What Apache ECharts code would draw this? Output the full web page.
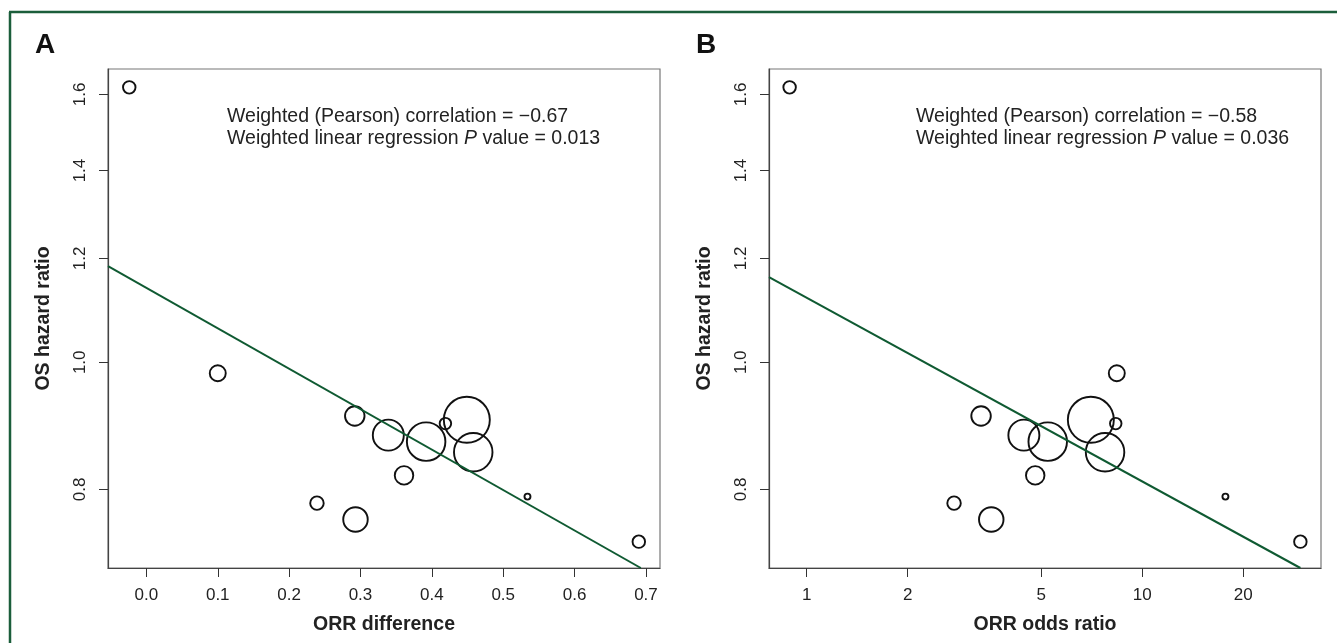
<!DOCTYPE html>
<html>
<head>
<meta charset="utf-8">
<script src="https://cdn.jsdelivr.net/npm/echarts@6/dist/echarts.min.js"></script>
<style>
html,body{margin:0;padding:0;background:#fff;}
#chart{width:1337px;height:643px;}
</style>
</head>
<body>
<div id="chart"></div>
<script>
// one entry per study, same order in both panels
var osHR    = [1.62, 0.981, 0.910, 0.880, 0.870, 0.898, 0.904, 0.854, 0.820, 0.781, 0.759, 0.790, 0.730];
var orrDiff = [-0.024, 0.100, 0.292, 0.339, 0.392, 0.419, 0.449, 0.458, 0.361, 0.239, 0.293, 0.534, 0.690];
var orrOdds = [0.89, 8.40, 3.31, 4.44, 5.23, 8.34, 7.03, 7.75, 4.80, 2.75, 3.55, 17.7, 29.6];
var studyWeight = [12.5, 16, 19.5, 31, 38.5, 11.5, 46, 38.5, 18.5, 13.5, 24.5, 6, 12.5];

// fitted weighted regression lines (end points)
var fitDiffX = [-0.0538, 0.6928];
var fitDiffY = [1.184, 0.697];
var fitOddsX = [0.7726, 29.6];
var fitOddsY = [1.161, 0.697];

var hrTicks   = [0.8, 1.0, 1.2, 1.4, 1.6];
var diffTicks = [0, 0.1, 0.2, 0.3, 0.4, 0.5, 0.6, 0.7];
var oddsTicks = [1, 2, 5, 10, 20];

var FONT = 'Liberation Sans, Arial, sans-serif';
var TXT = '#222';
var GREEN = '#0f5a32';

function pairs(xs, ys){
	var out = [];
	for(var i = 0 ; i < xs.length ; i++){
		out.push([xs[i], ys[i]]);
	}
	return out;
}

function xAxisOf(idx, type, min, max, ticks, name, fmt){
	return {
		gridIndex : idx,
		type : type,
		min : min,
		max : max,
		name : name,
		nameLocation : 'middle',
		nameGap : 47,
		nameTextStyle : { fontFamily : FONT, fontSize : 19.5, fontWeight : 'bold', color : TXT },
		axisLine : { show : true, onZero : false, lineStyle : { color : '#444', width : 1.2 } },
		axisTick : { show : true, customValues : ticks, length : 9, lineStyle : { color : '#333', width : 1 } },
		axisLabel : { customValues : ticks, margin : 19, fontFamily : FONT, fontSize : 17, color : TXT, formatter : fmt },
		splitLine : { show : false }
	};
}

function yAxisOf(idx){
	return {
		gridIndex : idx,
		type : 'log',
		min : 0.697,
		max : 1.673,
		name : 'OS hazard ratio',
		nameLocation : 'middle',
		nameGap : 54,
		nameRotate : 90,
		nameTextStyle : { fontFamily : FONT, fontSize : 19.5, fontWeight : 'bold', color : TXT },
		axisLine : { show : true, onZero : false, lineStyle : { color : '#444', width : 1.2 } },
		axisTick : { show : true, customValues : hrTicks, length : 9, lineStyle : { color : '#333', width : 1 } },
		axisLabel : { customValues : hrTicks, rotate : 90, margin : 19, fontFamily : FONT, fontSize : 17, color : TXT,
			formatter : function(v){ return Number(v).toFixed(1); } },
		splitLine : { show : false }
	};
}

function bubbles(idx, xs){
	return {
		type : 'scatter',
		xAxisIndex : idx,
		yAxisIndex : idx,
		data : pairs(xs, osHR),
		symbol : 'circle',
		symbolSize : function(v, p){ return studyWeight[p.dataIndex]; },
		itemStyle : { color : 'rgba(0,0,0,0)', borderColor : '#111', borderWidth : 1.9, opacity : 1 },
		z : 3
	};
}

function fitLine(idx, xs, ys){
	return {
		type : 'line',
		xAxisIndex : idx,
		yAxisIndex : idx,
		data : pairs(xs, ys),
		symbol : 'none',
		clip : true,
		lineStyle : { color : GREEN, width : 2 },
		z : 4
	};
}

function note(left, r, p){
	var base = { fontFamily : FONT, fontSize : 19.5, fontWeight : 'normal', color : TXT, lineHeight : 22.7 };
	return {
		left : left,
		top : 105,
		padding : 0,
		text : '{t|Weighted (Pearson) correlation = \u2212' + r + '}\n{t|Weighted linear regression }{i|P}{t| value = ' + p + '}',
		textStyle : {
			fontWeight : 'normal',
			rich : {
				t : base,
				i : Object.assign({}, base, { fontStyle : 'italic' })
			}
		}
	};
}

var myChart = echarts.init(document.getElementById('chart'), null, { renderer : 'canvas' });
var option = {
	backgroundColor : '#fff',
	animation : false,
	title : [
		{ left : 35, top : 31, padding : 0, text : 'A', textStyle : { fontFamily : FONT, fontSize : 28, fontWeight : 'bold', color : '#111' } },
		{ left : 696, top : 31, padding : 0, text : 'B', textStyle : { fontFamily : FONT, fontSize : 28, fontWeight : 'bold', color : '#111' } },
		note(227, '0.67', '0.013'),
		note(916, '0.58', '0.036')
	],
	graphic : [
		{ type : 'line', shape : { x1 : 10, y1 : 12, x2 : 10, y2 : 643 }, style : { stroke : '#1b5e3b', lineWidth : 2.5 } },
		{ type : 'line', shape : { x1 : 9, y1 : 12, x2 : 1337, y2 : 12 }, style : { stroke : '#1b5e3b', lineWidth : 2.5 } }
	],
	grid : [
		{ left : 108, top : 69, width : 552, height : 499, show : true, borderColor : '#777', borderWidth : 1.2, backgroundColor : 'transparent' },
		{ left : 769, top : 69, width : 552, height : 499, show : true, borderColor : '#777', borderWidth : 1.2, backgroundColor : 'transparent' }
	],
	xAxis : [
		xAxisOf(0, 'value', -0.0538, 0.7197, diffTicks, 'ORR difference', function(v){ return Number(v).toFixed(1); }),
		xAxisOf(1, 'log', 0.7726, 34.1, oddsTicks, 'ORR odds ratio', function(v){ return String(Math.round(v)); })
	],
	yAxis : [ yAxisOf(0), yAxisOf(1) ],
	series : [
		fitLine(0, fitDiffX, fitDiffY),
		bubbles(0, orrDiff),
		fitLine(1, fitOddsX, fitOddsY),
		bubbles(1, orrOdds)
	]
};
myChart.setOption(option);
</script>
</body>
</html>
